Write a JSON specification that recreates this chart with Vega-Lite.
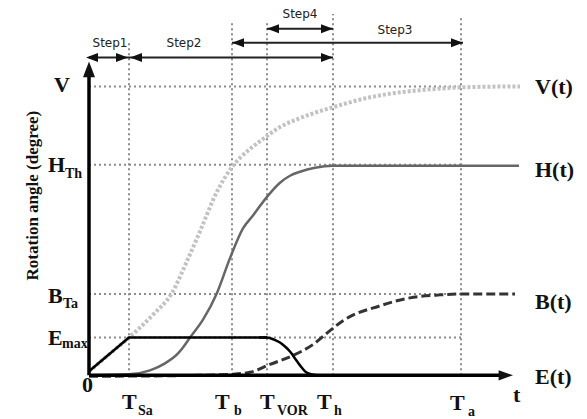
{
  "$schema": "https://vega.github.io/schema/vega-lite/v6.json",
  "width": 587,
  "height": 419,
  "padding": 0,
  "autosize": {"type": "fit", "contains": "padding"},
  "background": "white",
  "config": {"view": {"stroke": null}},
  "datasets": {
    "curves": [
      {"series": "V", "t": 0, "a": 4}, {"series": "V", "t": 20, "a": 21}, {"series": "V", "t": 40, "a": 38},
      {"series": "V", "t": 64, "a": 61}, {"series": "V", "t": 83, "a": 83}, {"series": "V", "t": 98, "a": 115},
      {"series": "V", "t": 111, "a": 145}, {"series": "V", "t": 128, "a": 185}, {"series": "V", "t": 144, "a": 211},
      {"series": "V", "t": 161, "a": 228}, {"series": "V", "t": 174, "a": 238}, {"series": "V", "t": 191, "a": 250},
      {"series": "V", "t": 211, "a": 259}, {"series": "V", "t": 244, "a": 270}, {"series": "V", "t": 281, "a": 280},
      {"series": "V", "t": 311, "a": 285}, {"series": "V", "t": 341, "a": 288}, {"series": "V", "t": 372, "a": 290},
      {"series": "V", "t": 431, "a": 291},
      {"series": "H", "t": 0, "a": 0}, {"series": "H", "t": 40, "a": 1}, {"series": "H", "t": 61, "a": 5},
      {"series": "H", "t": 76, "a": 12}, {"series": "H", "t": 89, "a": 22}, {"series": "H", "t": 94, "a": 28},
      {"series": "H", "t": 101, "a": 38}, {"series": "H", "t": 114, "a": 56}, {"series": "H", "t": 128, "a": 83},
      {"series": "H", "t": 141, "a": 118}, {"series": "H", "t": 154, "a": 148}, {"series": "H", "t": 164, "a": 161},
      {"series": "H", "t": 179, "a": 181}, {"series": "H", "t": 191, "a": 194}, {"series": "H", "t": 201, "a": 201},
      {"series": "H", "t": 211, "a": 205}, {"series": "H", "t": 226, "a": 209}, {"series": "H", "t": 244, "a": 211},
      {"series": "H", "t": 430, "a": 211},
      {"series": "B", "t": 0, "a": -1}, {"series": "B", "t": 111, "a": 0}, {"series": "B", "t": 142, "a": 1},
      {"series": "B", "t": 161, "a": 3}, {"series": "B", "t": 181, "a": 11}, {"series": "B", "t": 204, "a": 20},
      {"series": "B", "t": 224, "a": 31}, {"series": "B", "t": 241, "a": 45}, {"series": "B", "t": 254, "a": 55},
      {"series": "B", "t": 291, "a": 70}, {"series": "B", "t": 321, "a": 78}, {"series": "B", "t": 351, "a": 81},
      {"series": "B", "t": 372, "a": 82}, {"series": "B", "t": 426, "a": 82},
      {"series": "Eramp", "t": 0, "a": 4}, {"series": "Eramp", "t": 40, "a": 38}, {"series": "Eramp", "t": 178, "a": 38},
      {"series": "Edecay", "t": 170, "a": 38}, {"series": "Edecay", "t": 178, "a": 38}, {"series": "Edecay", "t": 185, "a": 36},
      {"series": "Edecay", "t": 191, "a": 33}, {"series": "Edecay", "t": 196, "a": 29}, {"series": "Edecay", "t": 201, "a": 24},
      {"series": "Edecay", "t": 206, "a": 17}, {"series": "Edecay", "t": 211, "a": 10}, {"series": "Edecay", "t": 216, "a": 4},
      {"series": "Edecay", "t": 222, "a": 1}, {"series": "Edecay", "t": 230, "a": 0}, {"series": "Edecay", "t": 244, "a": 0}
    ],
    "grid": [
      {"t": 40, "a": 0, "t2": 40, "a2": 335},
      {"t": 143, "a": 0, "t2": 143, "a2": 356},
      {"t": 178, "a": 0, "t2": 178, "a2": 356},
      {"t": 244, "a": 0, "t2": 244, "a2": 364},
      {"t": 372, "a": 0, "t2": 372, "a2": 362},
      {"t": 0, "a": 291, "t2": 372, "a2": 291},
      {"t": 0, "a": 212, "t2": 372, "a2": 212},
      {"t": 0, "a": 82, "t2": 372, "a2": 82},
      {"t": 0, "a": 38, "t2": 372, "a2": 38}
    ],
    "axes": [
      {"t": 0, "a": 0, "t2": 0, "a2": 306},
      {"t": 0, "a": 0, "t2": 414, "a2": 0}
    ],
    "steps": [
      {"t": 0, "a": 320, "t2": 40, "a2": 320},
      {"t": 40, "a": 320, "t2": 244, "a2": 320},
      {"t": 143, "a": 335, "t2": 374, "a2": 335},
      {"t": 178, "a": 349, "t2": 244, "a2": 349}
    ],
    "heads": [
      {"t": -3, "a": 320, "dir": "left"}, {"t": 39, "a": 320, "dir": "right"},
      {"t": 41, "a": 320, "dir": "left"}, {"t": 244, "a": 320, "dir": "right"},
      {"t": 143, "a": 335, "dir": "left"}, {"t": 374, "a": 335, "dir": "right"},
      {"t": 178, "a": 349, "dir": "left"}, {"t": 244, "a": 349, "dir": "right"},
      {"t": 0, "a": 316, "dir": "up"}, {"t": 424, "a": 0, "dir": "axisright"}
    ],
    "labels": [
      {"kind": "main", "text": "V", "t": -35, "a": 285},
      {"kind": "main", "text": "H", "t": -41, "a": 205},
      {"kind": "sub", "text": "Th", "t": -24, "a": 199},
      {"kind": "main", "text": "B", "t": -41, "a": 73},
      {"kind": "sub", "text": "Ta", "t": -26, "a": 68},
      {"kind": "main", "text": "E", "t": -41, "a": 31},
      {"kind": "sub", "text": "max", "t": -27, "a": 27},
      {"kind": "main", "text": "0", "t": -7, "a": -17},
      {"kind": "main", "text": "T", "t": 33, "a": -34},
      {"kind": "sub", "text": "Sa", "t": 49, "a": -40},
      {"kind": "main", "text": "T", "t": 126, "a": -34},
      {"kind": "sub", "text": "b", "t": 145, "a": -40},
      {"kind": "main", "text": "T", "t": 171, "a": -34},
      {"kind": "sub", "text": "VOR", "t": 188, "a": -40},
      {"kind": "main", "text": "T", "t": 228, "a": -34},
      {"kind": "sub", "text": "h", "t": 245, "a": -40},
      {"kind": "main", "text": "T", "t": 361, "a": -35},
      {"kind": "sub", "text": "a", "t": 379, "a": -41},
      {"kind": "main", "text": "t", "t": 424, "a": -27},
      {"kind": "main", "text": "V(t)", "t": 446, "a": 283},
      {"kind": "main", "text": "H(t)", "t": 446, "a": 200},
      {"kind": "main", "text": "B(t)", "t": 446, "a": 67},
      {"kind": "main", "text": "E(t)", "t": 446, "a": -9},
      {"kind": "step", "text": "Step1", "t": 21, "a": 335},
      {"kind": "step", "text": "Step2", "t": 95, "a": 335},
      {"kind": "step", "text": "Step4", "t": 211, "a": 364},
      {"kind": "step", "text": "Step3", "t": 306, "a": 348},
      {"kind": "title", "text": "Rotation angle (degree)", "t": -56, "a": 181}
    ]
  },
  "encoding": {
    "x": {"field": "t", "type": "quantitative", "scale": {"domain": [-89, 498], "nice": false, "zero": false}, "axis": null},
    "y": {"field": "a", "type": "quantitative", "scale": {"domain": [-41, 378], "nice": false, "zero": false}, "axis": null}
  },
  "layer": [
    {
      "data": {"name": "grid"},
      "mark": {"type": "rule", "color": "#8c8c8c", "strokeWidth": 2, "strokeDash": [2, 3]},
      "encoding": {"x2": {"field": "t2"}, "y2": {"field": "a2"}}
    },
    {
      "data": {"name": "curves"},
      "transform": [{"filter": "datum.series === 'V'"}],
      "mark": {"type": "line", "color": "#c2c2c2", "strokeWidth": 4, "strokeDash": [3, 2], "interpolate": "monotone"},
      "encoding": {}
    },
    {
      "data": {"name": "curves"},
      "transform": [{"filter": "datum.series === 'H'"}],
      "mark": {"type": "line", "color": "#666666", "strokeWidth": 2.5, "interpolate": "monotone"},
      "encoding": {}
    },
    {
      "data": {"name": "curves"},
      "transform": [{"filter": "datum.series === 'B'"}],
      "mark": {"type": "line", "color": "#333333", "strokeWidth": 3, "strokeDash": [9, 4], "interpolate": "monotone"},
      "encoding": {}
    },
    {
      "data": {"name": "curves"},
      "transform": [{"filter": "datum.series === 'Eramp'"}],
      "mark": {"type": "line", "color": "#000000", "strokeWidth": 2.5, "interpolate": "linear"},
      "encoding": {}
    },
    {
      "data": {"name": "curves"},
      "transform": [{"filter": "datum.series === 'Edecay'"}],
      "mark": {"type": "line", "color": "#000000", "strokeWidth": 2.5, "interpolate": "monotone"},
      "encoding": {}
    },
    {
      "data": {"name": "axes"},
      "mark": {"type": "rule", "color": "#000000", "strokeWidth": 3.5},
      "encoding": {"x2": {"field": "t2"}, "y2": {"field": "a2"}}
    },
    {
      "data": {"name": "steps"},
      "mark": {"type": "rule", "color": "#222222", "strokeWidth": 2},
      "encoding": {"x2": {"field": "t2"}, "y2": {"field": "a2"}}
    },
    {
      "data": {"name": "heads"},
      "mark": {"type": "point", "filled": true, "opacity": 1, "size": 144, "color": "#111111", "strokeWidth": 0},
      "encoding": {
        "shape": {
          "field": "dir", "type": "nominal", "legend": null,
          "scale": {
            "domain": ["left", "right", "up", "axisright"],
            "range": ["M0,0L2,-0.75L2,0.75Z", "M0,0L-2,-0.75L-2,0.75Z", "M0,0L-1,2.6L1,2.6Z", "M0,0L-2.4,-0.85L-2.4,0.85Z"]
          }
        }
      }
    },
    {
      "data": {"name": "labels"},
      "transform": [{"filter": "datum.kind === 'main'"}],
      "mark": {"type": "text", "font": "Liberation Serif", "fontWeight": "bold", "fontSize": 22, "align": "left", "baseline": "alphabetic", "color": "#111111"},
      "encoding": {"text": {"field": "text"}}
    },
    {
      "data": {"name": "labels"},
      "transform": [{"filter": "datum.kind === 'sub'"}],
      "mark": {"type": "text", "font": "Liberation Serif", "fontWeight": "bold", "fontSize": 14, "align": "left", "baseline": "alphabetic", "color": "#111111"},
      "encoding": {"text": {"field": "text"}}
    },
    {
      "data": {"name": "labels"},
      "transform": [{"filter": "datum.kind === 'step'"}],
      "mark": {"type": "text", "font": "DejaVu Sans", "fontSize": 12, "align": "center", "baseline": "middle", "color": "#222222"},
      "encoding": {"text": {"field": "text"}}
    },
    {
      "data": {"name": "labels"},
      "transform": [{"filter": "datum.kind === 'title'"}],
      "mark": {"type": "text", "font": "Liberation Serif", "fontWeight": "bold", "fontSize": 17, "angle": 270, "align": "center", "baseline": "middle", "color": "#111111"},
      "encoding": {"text": {"field": "text"}}
    }
  ]
}
